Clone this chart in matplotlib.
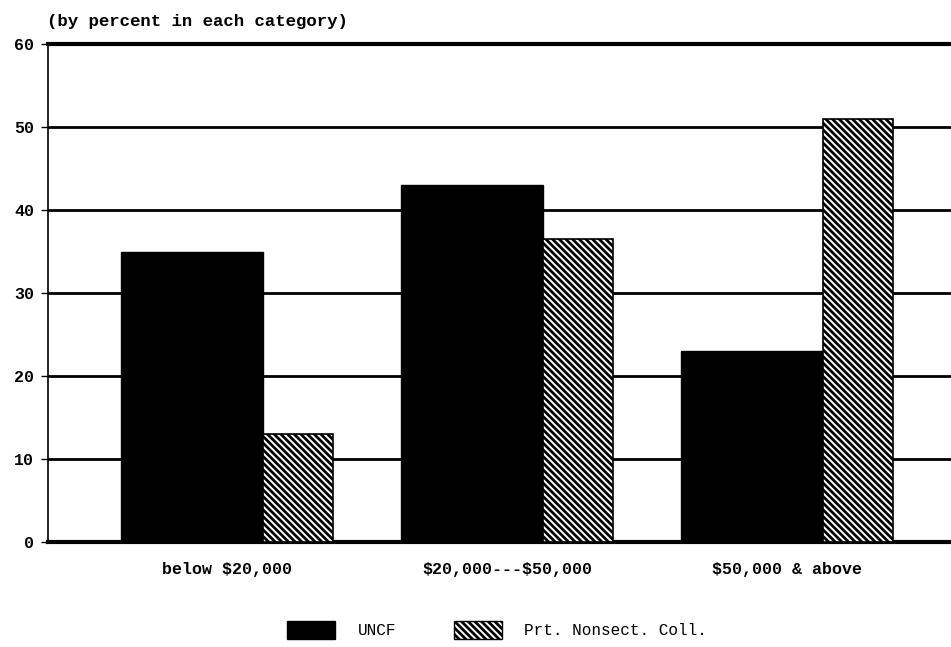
import matplotlib
matplotlib.use("Agg")
import matplotlib.pyplot as plt
from matplotlib.patches import Patch
import numpy as np

plt.rcParams['hatch.linewidth'] = 2.0
plt.rcParams['text.parse_math'] = False
plt.rcParams['font.family'] = ['Liberation Mono', 'DejaVu Sans Mono']

categories = ['below $20,000', '$20,000---$50,000', '$50,000 & above']
uncf = [35, 43, 23]
pri_nonsect = [13, 36.5, 51]
series_names = ['UNCF', 'Prt. Nonsect. Coll.']
yticks = [0, 10, 20, 30, 40, 50, 60]

fig = plt.figure(figsize=(9.51, 6.47), dpi=100)
ax = fig.add_axes([0.0505, 0.162, 0.9495, 0.770])

x = np.arange(len(categories))
w_uncf = 0.51
w_pri = 0.25
hatch = '\\' * 5

# gridlines behind the bars
for y in yticks[1:-1]:
    ax.axhline(y, color='black', lw=2.0, zorder=1)

ax.bar(x, uncf, width=w_uncf, color='black', edgecolor='black', zorder=3)
ax.bar(x + w_uncf / 2 + w_pri / 2, pri_nonsect, width=w_pri, color='white',
       edgecolor='black', hatch=hatch, lw=1.2, zorder=3)

ax.set_ylim(0, 60)
ax.set_xlim(-0.514, 2.711)
ax.set_yticks(yticks)
ax.set_yticklabels([str(v) for v in yticks], fontsize=12, fontweight='bold')
ax.set_xticks(x + 0.125)
ax.set_xticklabels(categories, fontsize=12, fontweight='bold')
ax.tick_params(axis='x', length=0, pad=14)
ax.tick_params(axis='y', length=5, width=1, pad=5)

ax.spines['right'].set_visible(False)
ax.spines['top'].set_linewidth(3)
ax.spines['bottom'].set_linewidth(3)
ax.spines['left'].set_linewidth(1.2)

fig.text(0.049, 0.955, '(by percent in each category)', fontsize=12.5,
         fontweight='bold', ha='left', va='bottom')

handles = [Patch(facecolor='black', edgecolor='black'),
           Patch(facecolor='white', edgecolor='black', hatch=hatch)]
fig.legend(handles, series_names, loc='center left', bbox_to_anchor=(0.287, 0.026),
           ncol=2, frameon=False, fontsize=11.5, handlelength=3.0,
           handleheight=1.4, columnspacing=3.6, handletextpad=1.4)

fig.savefig('out.png', dpi=100)
